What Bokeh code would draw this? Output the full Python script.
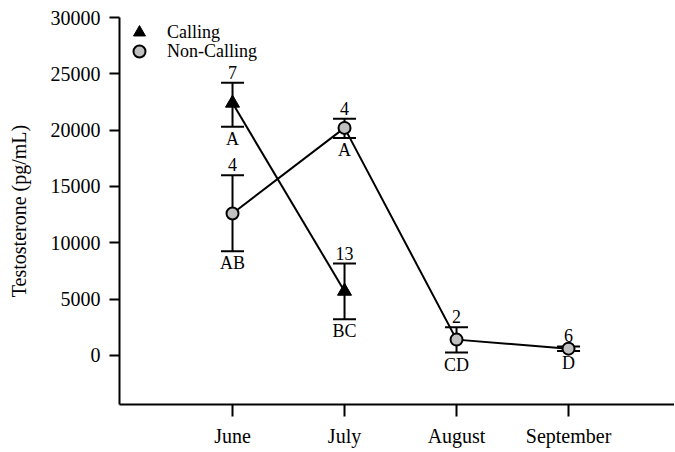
import numpy as np
from bokeh.plotting import figure
from bokeh.models import (ColumnDataSource, Range1d, FixedTicker, Whisker, TeeHead,
                          Legend, LegendItem)
from bokeh.core.properties import value
from bokeh.embed import file_html
from bokeh.resources import INLINE

# ---------------- data ----------------
months = ["June", "July", "August", "September"]
month_pos = [1, 2, 3, 4]
y_ticks = [0, 5000, 10000, 15000, 20000, 25000, 30000]

calling_x = [1, 2]
calling_mean = [22400, 5700]
calling_upper = [24200, 8150]
calling_lower = [20300, 3200]
calling_n = ["7", "13"]
calling_group = ["A", "BC"]

noncalling_x = [1, 2, 3, 4]
noncalling_mean = [12600, 20200, 1400, 600]
noncalling_upper = [16000, 21000, 2500, 800]
noncalling_lower = [9250, 19300, 250, 400]
noncalling_n = ["4", "4", "2", "6"]
noncalling_group = ["AB", "A", "CD", "D"]

FONT = "Liberation Serif"

src_c = ColumnDataSource(dict(x=calling_x, mean=calling_mean, upper=calling_upper,
                              lower=calling_lower, n=calling_n, g=calling_group))
src_n = ColumnDataSource(dict(x=noncalling_x, mean=noncalling_mean, upper=noncalling_upper,
                              lower=noncalling_lower, n=noncalling_n, g=noncalling_group))

p = figure(width=674, height=450, output_backend="svg", toolbar_location=None,
           x_range=Range1d(-0.009, 4.946), y_range=Range1d(-4360, 30000),
           min_border_left=119, min_border_right=0, min_border_top=17, min_border_bottom=46)

p.xgrid.visible = False
p.ygrid.visible = False
p.outline_line_color = None
p.background_fill_color = "white"

# error bars
for src in (src_c, src_n):
    w = Whisker(base="x", upper="upper", lower="lower", source=src,
                line_color="black", line_width=2,
                upper_head=TeeHead(size=23, line_width=2, line_color="black"),
                lower_head=TeeHead(size=23, line_width=2, line_color="black"))
    p.add_layout(w)

# lines
p.line("x", "mean", source=src_c, line_color="black", line_width=2)
p.line("x", "mean", source=src_n, line_color="black", line_width=2)

# markers
r_c = p.scatter("x", "mean", source=src_c, marker="triangle", size=14,
                fill_color="black", line_color="black", line_width=1)
r_n = p.scatter("x", "mean", source=src_n, marker="circle", size=12,
                fill_color="#c0c0c0", line_color="black", line_width=2)

# annotations
for src in (src_c, src_n):
    p.text("x", "upper", text="n", source=src, text_font=value(FONT), text_font_size="18px",
           text_align="center", text_baseline="bottom", y_offset=-4, text_color="black")
    p.text("x", "lower", text="g", source=src, text_font=value(FONT), text_font_size="18px",
           text_align="center", text_baseline="top", y_offset=2, text_color="black")

# axes
for ax in (p.xaxis[0], p.yaxis[0]):
    ax.axis_line_width = 2
    ax.major_tick_line_width = 2
    ax.minor_tick_line_color = None
    ax.major_tick_in = 0
    ax.major_label_text_font = FONT
    ax.major_label_text_font_size = "20px"
    ax.major_label_text_color = "black"
    ax.axis_line_color = "black"
    ax.major_tick_line_color = "black"

p.xaxis.ticker = FixedTicker(ticks=month_pos)
p.xaxis.major_label_overrides = {pos: m for pos, m in zip(month_pos, months)}
p.xaxis.major_tick_out = 12
p.xaxis.major_label_standoff = 8

p.yaxis.ticker = FixedTicker(ticks=y_ticks)
p.yaxis.major_tick_out = 10
p.yaxis.major_label_standoff = 9
p.yaxis.axis_label = "Testosterone (pg/mL)"
p.yaxis.axis_label_text_font = FONT
p.yaxis.axis_label_text_font_size = "20px"
p.yaxis.axis_label_text_font_style = "normal"
p.yaxis.axis_label_text_color = "black"
p.yaxis.axis_label_standoff = 18

common = dict(margin=0, padding=0, spacing=0, glyph_width=40, glyph_height=30,
              label_height=18, label_standoff=8, label_text_font=FONT,
              label_text_font_size="18px", label_text_color="black",
              background_fill_alpha=0, border_line_alpha=0)
legend1 = Legend(items=[LegendItem(label="Calling", renderers=[r_c])],
                 location="top_left", **common)
legend2 = Legend(items=[LegendItem(label="Non-Calling", renderers=[r_n])],
                 location=(0, 338), **common)
p.add_layout(legend1)
p.add_layout(legend2)

open("out.html", "w").write(file_html(p, INLINE))
